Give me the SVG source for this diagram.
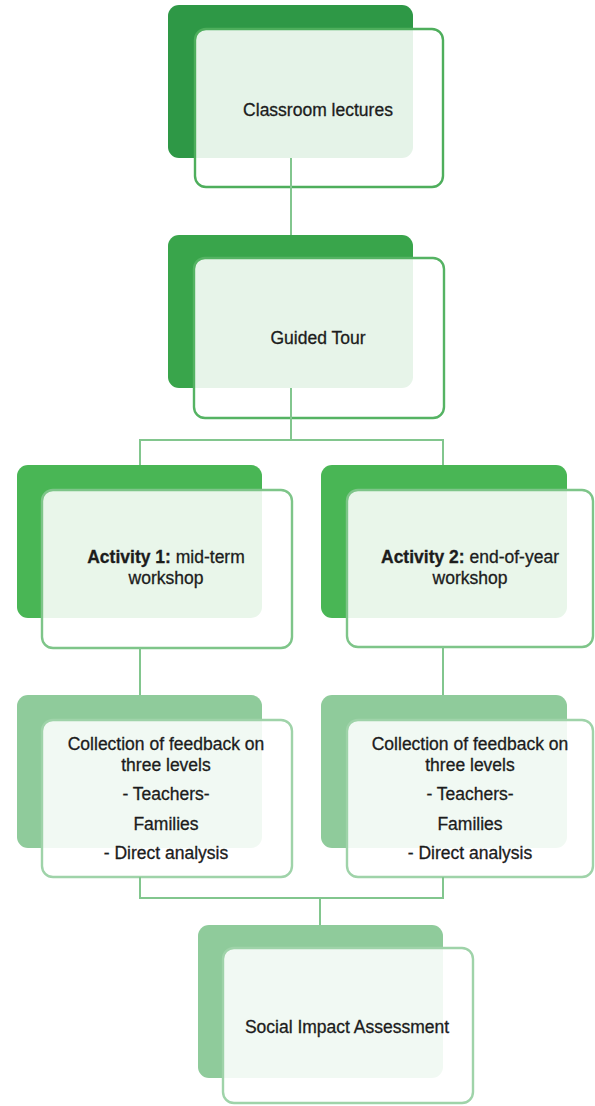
<svg xmlns="http://www.w3.org/2000/svg" width="595" height="1106" viewBox="0 0 595 1106">
  <style>
    .back { stroke: none; }
    .front { fill: #ffffff; fill-opacity: 0.88; stroke-width: 2.4; }
    .lbl { font-family: "Liberation Sans", Arial, sans-serif; font-size: 17.5px; fill: #1c1c1c; stroke: #1c1c1c; stroke-width: 0.3; text-anchor: middle; }
    .b { font-weight: bold; }
    .wire { fill: none; stroke: #82c68e; stroke-width: 2; }
  </style>
  <rect width="595" height="1106" fill="#ffffff"/>

  <g id="classroom-lectures">
    <rect class="back" x="168" y="5" width="245" height="153" rx="11" fill="#2e9846"/>
    <rect class="front" x="195" y="29" width="248" height="158" rx="11" stroke="#4eae5c"/>
    <text class="lbl" x="318" y="116">Classroom lectures</text>
  </g>

  <g id="guided-tour">
    <rect class="back" x="168" y="235" width="245" height="153" rx="11" fill="#39a54b"/>
    <rect class="front" x="194" y="258" width="250" height="160" rx="11" stroke="#55b363"/>
    <text class="lbl" x="318" y="344">Guided Tour</text>
  </g>

  <g id="activity-1">
    <rect class="back" x="17" y="465" width="245" height="153" rx="11" fill="#49b655"/>
    <rect class="front" x="42" y="490" width="250" height="158" rx="11" stroke="#7ec589"/>
    <text class="lbl" x="166" y="563"><tspan class="b">Activity 1:</tspan> mid-term</text>
    <text class="lbl" x="166" y="584">workshop</text>
  </g>

  <g id="activity-2">
    <rect class="back" x="321" y="465" width="246" height="153" rx="11" fill="#49b655"/>
    <rect class="front" x="347" y="490" width="246" height="157" rx="11" stroke="#7ec589"/>
    <text class="lbl" x="470" y="563"><tspan class="b">Activity 2:</tspan> end-of-year</text>
    <text class="lbl" x="470" y="584">workshop</text>
  </g>

  <g id="feedback-1">
    <rect class="back" x="17" y="695" width="245" height="153" rx="11" fill="#8fcb9b"/>
    <rect class="front" x="42" y="720" width="250" height="157" rx="11" stroke="#9fd3a9"/>
    <text class="lbl" x="166" y="750">Collection of feedback on</text>
    <text class="lbl" x="166" y="771">three levels</text>
    <text class="lbl" x="166" y="800">- Teachers-</text>
    <text class="lbl" x="166" y="830">Families</text>
    <text class="lbl" x="166" y="859">- Direct analysis</text>
  </g>

  <g id="feedback-2">
    <rect class="back" x="321" y="695" width="246" height="153" rx="11" fill="#8fcb9b"/>
    <rect class="front" x="347" y="720" width="246" height="157" rx="11" stroke="#9fd3a9"/>
    <text class="lbl" x="470" y="750">Collection of feedback on</text>
    <text class="lbl" x="470" y="771">three levels</text>
    <text class="lbl" x="470" y="800">- Teachers-</text>
    <text class="lbl" x="470" y="830">Families</text>
    <text class="lbl" x="470" y="859">- Direct analysis</text>
  </g>

  <g id="social-impact">
    <rect class="back" x="198" y="925" width="245" height="153" rx="11" fill="#8fcb9b"/>
    <rect class="front" x="223" y="948" width="250" height="155" rx="11" stroke="#9fd3a9"/>
    <text class="lbl" x="347" y="1033">Social Impact Assessment</text>
  </g>

  <g id="connectors">
    <path class="wire" d="M291 158 V235"/>
    <path class="wire" d="M291 388 V440 M140 465 V440 H443 V465"/>
    <path class="wire" d="M140 648 V695"/>
    <path class="wire" d="M443 647 V695"/>
    <path class="wire" d="M140 877 V898 H443 V877 M320 898 V925"/>
  </g>
</svg>
